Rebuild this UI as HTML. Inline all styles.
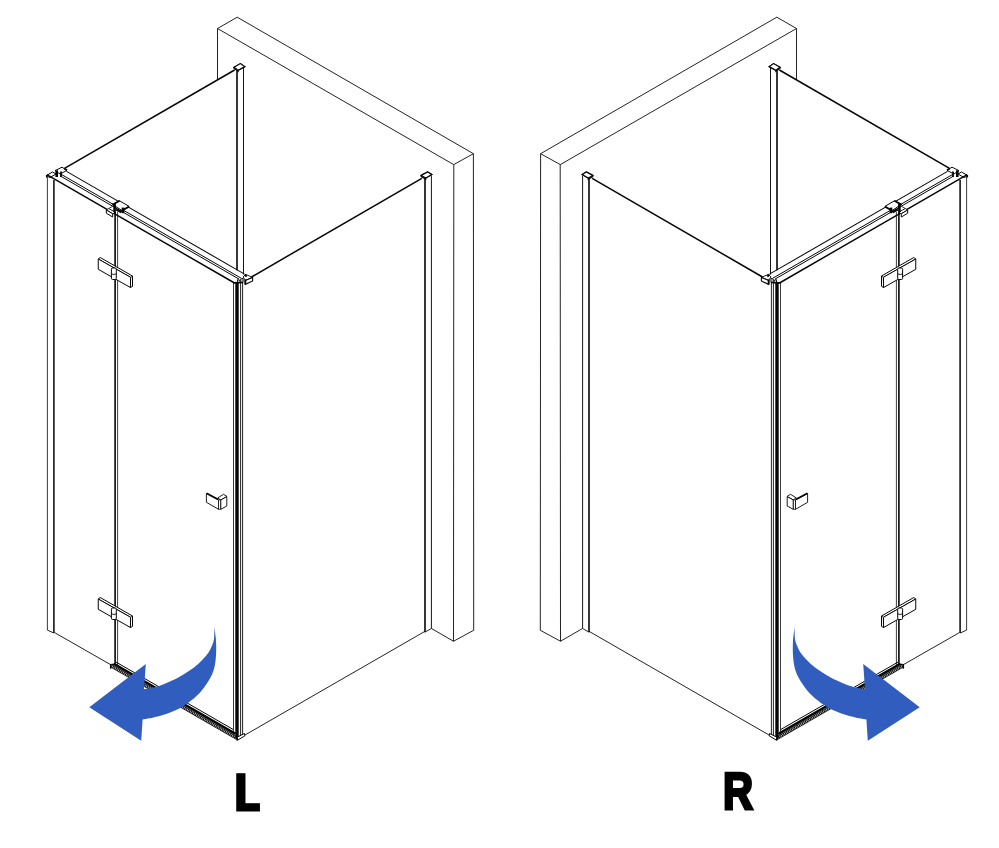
<!DOCTYPE html>
<html><head><meta charset="utf-8"><title>L / R</title>
<style>
html,body{margin:0;padding:0;background:#fff;}
body{width:999px;height:848px;overflow:hidden;position:relative;font-family:"Liberation Sans",sans-serif;}
svg{position:absolute;left:0;top:0;display:block;will-change:transform}
</style></head><body>
<svg width="999" height="848" viewBox="0 0 999 848">
<rect width="999" height="848" fill="#fff"/>
<g>
<path d="M217.50 28.50 L237.20 17.20 L473.40 153.70 L453.70 164.60 Z" stroke="#0a0a0a" stroke-width="0.9" fill="none" stroke-linejoin="miter"/>
<line x1="217.50" y1="28.50" x2="217.50" y2="79.80" stroke="#0a0a0a" stroke-width="0.9"/>
<line x1="473.40" y1="153.70" x2="473.70" y2="630.25" stroke="#0a0a0a" stroke-width="0.9"/>
<line x1="453.80" y1="164.50" x2="453.50" y2="641.25" stroke="#0a0a0a" stroke-width="0.9"/>
<path d="M431.50 628.50 L453.50 641.25 L473.75 630.25" stroke="#0a0a0a" stroke-width="0.9" fill="none" stroke-linejoin="miter"/>
<line x1="237.00" y1="70.50" x2="237.00" y2="270.30" stroke="#050505" stroke-width="1.6"/>
<line x1="243.50" y1="67.50" x2="243.50" y2="274.50" stroke="#0a0a0a" stroke-width="0.95"/>
<path d="M234.00 68.40 L234.00 67.20 L240.40 63.60 L244.80 66.60 L238.20 70.20 L238.20 71.40 Z" stroke="#050505" stroke-width="1.1" fill="#fff" stroke-linejoin="miter"/>
<path d="M234.00 67.20 L240.40 63.60 L244.80 66.60 L238.20 70.20 Z" stroke="#050505" stroke-width="1.2" fill="#fff" stroke-linejoin="miter"/>
<line x1="64.50" y1="168.40" x2="234.60" y2="70.00" stroke="#050505" stroke-width="1.5"/>
<line x1="425.00" y1="178.50" x2="425.00" y2="632.30" stroke="#050505" stroke-width="1.6"/>
<line x1="431.40" y1="175.50" x2="431.40" y2="628.50" stroke="#0a0a0a" stroke-width="0.95"/>
<line x1="425.10" y1="632.00" x2="431.50" y2="628.50" stroke="#0a0a0a" stroke-width="0.9"/>
<path d="M421.20 176.60 L421.20 175.40 L427.60 172.00 L431.80 174.40 L425.80 178.00 L425.80 179.20 Z" stroke="#050505" stroke-width="1.1" fill="#fff" stroke-linejoin="miter"/>
<path d="M421.20 175.40 L427.60 172.00 L431.80 174.40 L425.80 178.00 Z" stroke="#050505" stroke-width="1.2" fill="#fff" stroke-linejoin="miter"/>
<line x1="251.50" y1="277.00" x2="421.80" y2="178.30" stroke="#050505" stroke-width="1.5"/>
<line x1="245.00" y1="735.00" x2="425.00" y2="631.30" stroke="#0a0a0a" stroke-width="0.9"/>
<line x1="47.40" y1="177.00" x2="47.40" y2="630.00" stroke="#0a0a0a" stroke-width="0.8"/>
<line x1="53.90" y1="180.00" x2="53.90" y2="633.00" stroke="#050505" stroke-width="1.5"/>
<line x1="47.25" y1="630.00" x2="53.75" y2="633.00" stroke="#0a0a0a" stroke-width="0.9"/>
<line x1="54.40" y1="632.50" x2="111.25" y2="665.00" stroke="#0a0a0a" stroke-width="0.9"/>
<line x1="66.50" y1="171.42" x2="244.50" y2="274.12" stroke="#050505" stroke-width="1.05"/>
<line x1="61.50" y1="174.53" x2="241.00" y2="278.10" stroke="#050505" stroke-width="1.0"/>
<line x1="60.00" y1="175.81" x2="239.00" y2="279.10" stroke="#050505" stroke-width="1.0"/>
<path d="M46.30 175.60 L52.50 172.00 L56.00 174.00 L49.80 177.60 Z" stroke="#050505" stroke-width="1.0" fill="#fff" stroke-linejoin="miter"/>
<path d="M55.00 170.60 L62.00 167.20 L67.00 170.40 L60.00 174.00 Z" stroke="#0a0a0a" stroke-width="1.0" fill="#fff" stroke-linejoin="miter"/>
<line x1="56.70" y1="170.30" x2="56.70" y2="177.00" stroke="#050505" stroke-width="2.6"/>
<line x1="61.00" y1="171.60" x2="61.00" y2="177.00" stroke="#050505" stroke-width="1.8"/>
<line x1="46.60" y1="175.00" x2="46.60" y2="177.50" stroke="#050505" stroke-width="1.4"/>
<line x1="64.30" y1="168.60" x2="67.00" y2="170.20" stroke="#050505" stroke-width="1.8"/>
<line x1="46.80" y1="174.70" x2="234.50" y2="283.00" stroke="#050505" stroke-width="1.45"/>
<path d="M112.60 204.50 L119.50 200.80 L129.00 206.30 L122.00 210.60 Z" stroke="#050505" stroke-width="1.0" fill="#fff" stroke-linejoin="miter"/>
<path d="M106.30 210.00 L108.70 208.50 L115.20 212.20 L112.80 213.80 Z" stroke="#050505" stroke-width="0.9" fill="#fff" stroke-linejoin="miter"/>
<path d="M106.30 210.00 L106.30 213.20 L112.60 217.00 L112.80 213.80 Z" stroke="#050505" stroke-width="1.0" fill="#fff" stroke-linejoin="miter"/>
<line x1="108.70" y1="208.50" x2="112.60" y2="206.30" stroke="#050505" stroke-width="0.8"/>
<line x1="112.40" y1="204.80" x2="119.60" y2="200.80" stroke="#050505" stroke-width="1.8"/>
<line x1="121.80" y1="210.80" x2="129.20" y2="206.40" stroke="#050505" stroke-width="1.8"/>
<line x1="114.60" y1="204.00" x2="114.60" y2="212.00" stroke="#050505" stroke-width="2.6"/>
<line x1="123.00" y1="207.60" x2="123.00" y2="213.20" stroke="#050505" stroke-width="2.6"/>
<line x1="116.20" y1="209.50" x2="121.50" y2="212.20" stroke="#050505" stroke-width="2.2"/>
<line x1="115.10" y1="212.00" x2="115.10" y2="664.00" stroke="#050505" stroke-width="1.6"/>
<line x1="117.60" y1="212.00" x2="117.60" y2="665.00" stroke="#0a0a0a" stroke-width="0.8"/>
<path d="M98.25 259.00 L100.25 257.50 L132.50 276.00 L132.50 286.40 L130.40 287.50 L130.60 277.30 Z" stroke="#050505" stroke-width="1.0" fill="#fff" stroke-linejoin="miter"/>
<path d="M98.25 259.00 L98.25 269.30 L130.40 287.50 L130.60 277.30 Z" stroke="#050505" stroke-width="1.0" fill="#fff" stroke-linejoin="miter"/>
<line x1="130.60" y1="277.30" x2="132.50" y2="276.00" stroke="#050505" stroke-width="0.8"/>
<rect x="111.4" y="268.00" width="4.9" height="11.5" rx="1.2" fill="#fff" stroke="#050505" stroke-width="1.0"/>
<path d="M111.4 273.80 Q113.8 275.20 116.3 273.80" fill="none" stroke="#050505" stroke-width="0.9"/>
<path d="M98.25 599.00 L100.25 597.50 L132.50 616.00 L132.50 626.40 L130.40 627.50 L130.60 617.30 Z" stroke="#050505" stroke-width="1.0" fill="#fff" stroke-linejoin="miter"/>
<path d="M98.25 599.00 L98.25 609.30 L130.40 627.50 L130.60 617.30 Z" stroke="#050505" stroke-width="1.0" fill="#fff" stroke-linejoin="miter"/>
<line x1="130.60" y1="617.30" x2="132.50" y2="616.00" stroke="#050505" stroke-width="0.8"/>
<rect x="111.4" y="608.00" width="4.9" height="11.5" rx="1.2" fill="#fff" stroke="#050505" stroke-width="1.0"/>
<path d="M111.4 613.80 Q113.8 615.20 116.3 613.80" fill="none" stroke="#050505" stroke-width="0.9"/>
<path d="M206.40 493.50 L206.40 502.30 L218.50 509.30 L218.50 499.90 Z" stroke="#050505" stroke-width="0.9" fill="#fff" stroke-linejoin="miter"/>
<line x1="206.60" y1="493.20" x2="218.20" y2="499.40" stroke="#050505" stroke-width="1.7"/>
<path d="M217.80 497.90 L223.50 494.30 L227.00 496.50 L220.80 499.90 Z" stroke="#050505" stroke-width="0.9" fill="#fff" stroke-linejoin="miter"/>
<path d="M218.50 499.90 L220.80 499.90 L220.80 509.30 L218.50 509.30 Z" stroke="#050505" stroke-width="0.8" fill="#fff" stroke-linejoin="miter"/>
<path d="M220.80 499.90 L226.80 496.70 L226.80 506.00 L220.80 509.30 Z" stroke="#050505" stroke-width="0.9" fill="#fff" stroke-linejoin="miter"/>
<line x1="116.00" y1="662.08" x2="233.20" y2="729.47" stroke="#050505" stroke-width="1.0"/>
<line x1="113.80" y1="663.86" x2="235.50" y2="733.84" stroke="#050505" stroke-width="2.4"/>
<line x1="110.30" y1="664.80" x2="114.60" y2="664.20" stroke="#050505" stroke-width="1.5"/>
<line x1="110.60" y1="665.52" x2="237.00" y2="738.20" stroke="#161616" stroke-width="3.3"/>
<line x1="110.6" y1="665.52" x2="237" y2="738.20" stroke="#fff" stroke-width="2.0" stroke-dasharray="0.55 1.25"/>
<line x1="110.60" y1="664.20" x2="110.60" y2="668.80" stroke="#050505" stroke-width="1.3"/>
<line x1="233.50" y1="282.70" x2="233.50" y2="733.00" stroke="#0a0a0a" stroke-width="0.8"/>
<line x1="237.00" y1="282.70" x2="237.00" y2="738.00" stroke="#050505" stroke-width="3.4"/>
<line x1="240.60" y1="283.00" x2="240.60" y2="737.00" stroke="#0a0a0a" stroke-width="0.9"/>
<line x1="242.60" y1="283.00" x2="242.60" y2="736.00" stroke="#0a0a0a" stroke-width="0.9"/>
<path d="M243.20 277.00 L245.50 274.30 L252.60 277.40 L245.30 280.40 Z" stroke="#050505" stroke-width="0.9" fill="#fff" stroke-linejoin="miter"/>
<path d="M245.30 280.40 L252.60 277.40 L252.60 281.00 L245.40 284.30 Z" stroke="#050505" stroke-width="1.1" fill="#fff" stroke-linejoin="miter"/>
<line x1="245.30" y1="279.60" x2="245.40" y2="284.40" stroke="#050505" stroke-width="1.9"/>
<line x1="244.90" y1="274.60" x2="246.60" y2="276.60" stroke="#050505" stroke-width="2.0"/>
<path d="M237.60 279.60 L240.00 280.40 L240.00 282.60 L237.60 282.60 Z" stroke="#050505" stroke-width="1.0" fill="#fff" stroke-linejoin="miter"/>
<path d="M240.80 279.00 L243.00 278.20 L243.00 282.20 L240.80 282.60 Z" stroke="#050505" stroke-width="1.0" fill="#fff" stroke-linejoin="miter"/>
<line x1="233.00" y1="282.90" x2="243.20" y2="282.50" stroke="#050505" stroke-width="1.6"/>
<path d="M237.00 737.20 L244.50 733.50 L244.80 735.90 L237.50 740.20 Z" stroke="#050505" stroke-width="1.0" fill="#fff" stroke-linejoin="miter"/>
<line x1="236.60" y1="737.00" x2="237.20" y2="740.40" stroke="#050505" stroke-width="1.6"/>
</g>
<g transform="translate(1014,0) scale(-1,1)">
<path d="M217.50 28.50 L237.20 17.20 L473.40 153.70 L453.70 164.60 Z" stroke="#0a0a0a" stroke-width="0.9" fill="none" stroke-linejoin="miter"/>
<line x1="217.50" y1="28.50" x2="217.50" y2="79.80" stroke="#0a0a0a" stroke-width="0.9"/>
<line x1="473.40" y1="153.70" x2="473.70" y2="630.25" stroke="#0a0a0a" stroke-width="0.9"/>
<line x1="453.80" y1="164.50" x2="453.50" y2="641.25" stroke="#0a0a0a" stroke-width="0.9"/>
<path d="M431.50 628.50 L453.50 641.25 L473.75 630.25" stroke="#0a0a0a" stroke-width="0.9" fill="none" stroke-linejoin="miter"/>
<line x1="237.00" y1="70.50" x2="237.00" y2="270.30" stroke="#050505" stroke-width="1.6"/>
<line x1="243.50" y1="67.50" x2="243.50" y2="274.50" stroke="#0a0a0a" stroke-width="0.95"/>
<path d="M234.00 68.40 L234.00 67.20 L240.40 63.60 L244.80 66.60 L238.20 70.20 L238.20 71.40 Z" stroke="#050505" stroke-width="1.1" fill="#fff" stroke-linejoin="miter"/>
<path d="M234.00 67.20 L240.40 63.60 L244.80 66.60 L238.20 70.20 Z" stroke="#050505" stroke-width="1.2" fill="#fff" stroke-linejoin="miter"/>
<line x1="64.50" y1="168.40" x2="234.60" y2="70.00" stroke="#050505" stroke-width="1.5"/>
<line x1="425.00" y1="178.50" x2="425.00" y2="632.30" stroke="#050505" stroke-width="1.6"/>
<line x1="431.40" y1="175.50" x2="431.40" y2="628.50" stroke="#0a0a0a" stroke-width="0.95"/>
<line x1="425.10" y1="632.00" x2="431.50" y2="628.50" stroke="#0a0a0a" stroke-width="0.9"/>
<path d="M421.20 176.60 L421.20 175.40 L427.60 172.00 L431.80 174.40 L425.80 178.00 L425.80 179.20 Z" stroke="#050505" stroke-width="1.1" fill="#fff" stroke-linejoin="miter"/>
<path d="M421.20 175.40 L427.60 172.00 L431.80 174.40 L425.80 178.00 Z" stroke="#050505" stroke-width="1.2" fill="#fff" stroke-linejoin="miter"/>
<line x1="251.50" y1="277.00" x2="421.80" y2="178.30" stroke="#050505" stroke-width="1.5"/>
<line x1="245.00" y1="735.00" x2="425.00" y2="631.30" stroke="#0a0a0a" stroke-width="0.9"/>
<line x1="47.40" y1="177.00" x2="47.40" y2="630.00" stroke="#0a0a0a" stroke-width="0.8"/>
<line x1="53.90" y1="180.00" x2="53.90" y2="633.00" stroke="#050505" stroke-width="1.5"/>
<line x1="47.25" y1="630.00" x2="53.75" y2="633.00" stroke="#0a0a0a" stroke-width="0.9"/>
<line x1="54.40" y1="632.50" x2="111.25" y2="665.00" stroke="#0a0a0a" stroke-width="0.9"/>
<line x1="66.50" y1="171.42" x2="244.50" y2="274.12" stroke="#050505" stroke-width="1.05"/>
<line x1="61.50" y1="174.53" x2="241.00" y2="278.10" stroke="#050505" stroke-width="1.0"/>
<line x1="60.00" y1="175.81" x2="239.00" y2="279.10" stroke="#050505" stroke-width="1.0"/>
<path d="M46.30 175.60 L52.50 172.00 L56.00 174.00 L49.80 177.60 Z" stroke="#050505" stroke-width="1.0" fill="#fff" stroke-linejoin="miter"/>
<path d="M55.00 170.60 L62.00 167.20 L67.00 170.40 L60.00 174.00 Z" stroke="#0a0a0a" stroke-width="1.0" fill="#fff" stroke-linejoin="miter"/>
<line x1="56.70" y1="170.30" x2="56.70" y2="177.00" stroke="#050505" stroke-width="2.6"/>
<line x1="61.00" y1="171.60" x2="61.00" y2="177.00" stroke="#050505" stroke-width="1.8"/>
<line x1="46.60" y1="175.00" x2="46.60" y2="177.50" stroke="#050505" stroke-width="1.4"/>
<line x1="64.30" y1="168.60" x2="67.00" y2="170.20" stroke="#050505" stroke-width="1.8"/>
<line x1="46.80" y1="174.70" x2="234.50" y2="283.00" stroke="#050505" stroke-width="1.45"/>
<path d="M112.60 204.50 L119.50 200.80 L129.00 206.30 L122.00 210.60 Z" stroke="#050505" stroke-width="1.0" fill="#fff" stroke-linejoin="miter"/>
<path d="M106.30 210.00 L108.70 208.50 L115.20 212.20 L112.80 213.80 Z" stroke="#050505" stroke-width="0.9" fill="#fff" stroke-linejoin="miter"/>
<path d="M106.30 210.00 L106.30 213.20 L112.60 217.00 L112.80 213.80 Z" stroke="#050505" stroke-width="1.0" fill="#fff" stroke-linejoin="miter"/>
<line x1="108.70" y1="208.50" x2="112.60" y2="206.30" stroke="#050505" stroke-width="0.8"/>
<line x1="112.40" y1="204.80" x2="119.60" y2="200.80" stroke="#050505" stroke-width="1.8"/>
<line x1="121.80" y1="210.80" x2="129.20" y2="206.40" stroke="#050505" stroke-width="1.8"/>
<line x1="114.60" y1="204.00" x2="114.60" y2="212.00" stroke="#050505" stroke-width="2.6"/>
<line x1="123.00" y1="207.60" x2="123.00" y2="213.20" stroke="#050505" stroke-width="2.6"/>
<line x1="116.20" y1="209.50" x2="121.50" y2="212.20" stroke="#050505" stroke-width="2.2"/>
<line x1="115.10" y1="212.00" x2="115.10" y2="664.00" stroke="#050505" stroke-width="1.6"/>
<line x1="117.60" y1="212.00" x2="117.60" y2="665.00" stroke="#0a0a0a" stroke-width="0.8"/>
<path d="M98.25 259.00 L100.25 257.50 L132.50 276.00 L132.50 286.40 L130.40 287.50 L130.60 277.30 Z" stroke="#050505" stroke-width="1.0" fill="#fff" stroke-linejoin="miter"/>
<path d="M98.25 259.00 L98.25 269.30 L130.40 287.50 L130.60 277.30 Z" stroke="#050505" stroke-width="1.0" fill="#fff" stroke-linejoin="miter"/>
<line x1="130.60" y1="277.30" x2="132.50" y2="276.00" stroke="#050505" stroke-width="0.8"/>
<rect x="111.4" y="268.00" width="4.9" height="11.5" rx="1.2" fill="#fff" stroke="#050505" stroke-width="1.0"/>
<path d="M111.4 273.80 Q113.8 275.20 116.3 273.80" fill="none" stroke="#050505" stroke-width="0.9"/>
<path d="M98.25 599.00 L100.25 597.50 L132.50 616.00 L132.50 626.40 L130.40 627.50 L130.60 617.30 Z" stroke="#050505" stroke-width="1.0" fill="#fff" stroke-linejoin="miter"/>
<path d="M98.25 599.00 L98.25 609.30 L130.40 627.50 L130.60 617.30 Z" stroke="#050505" stroke-width="1.0" fill="#fff" stroke-linejoin="miter"/>
<line x1="130.60" y1="617.30" x2="132.50" y2="616.00" stroke="#050505" stroke-width="0.8"/>
<rect x="111.4" y="608.00" width="4.9" height="11.5" rx="1.2" fill="#fff" stroke="#050505" stroke-width="1.0"/>
<path d="M111.4 613.80 Q113.8 615.20 116.3 613.80" fill="none" stroke="#050505" stroke-width="0.9"/>
<path d="M206.40 493.50 L206.40 502.30 L218.50 509.30 L218.50 499.90 Z" stroke="#050505" stroke-width="0.9" fill="#fff" stroke-linejoin="miter"/>
<line x1="206.60" y1="493.20" x2="218.20" y2="499.40" stroke="#050505" stroke-width="1.7"/>
<path d="M217.80 497.90 L223.50 494.30 L227.00 496.50 L220.80 499.90 Z" stroke="#050505" stroke-width="0.9" fill="#fff" stroke-linejoin="miter"/>
<path d="M218.50 499.90 L220.80 499.90 L220.80 509.30 L218.50 509.30 Z" stroke="#050505" stroke-width="0.8" fill="#fff" stroke-linejoin="miter"/>
<path d="M220.80 499.90 L226.80 496.70 L226.80 506.00 L220.80 509.30 Z" stroke="#050505" stroke-width="0.9" fill="#fff" stroke-linejoin="miter"/>
<line x1="116.00" y1="662.08" x2="233.20" y2="729.47" stroke="#050505" stroke-width="1.0"/>
<line x1="113.80" y1="663.86" x2="235.50" y2="733.84" stroke="#050505" stroke-width="2.4"/>
<line x1="110.30" y1="664.80" x2="114.60" y2="664.20" stroke="#050505" stroke-width="1.5"/>
<line x1="110.60" y1="665.52" x2="237.00" y2="738.20" stroke="#161616" stroke-width="3.3"/>
<line x1="110.6" y1="665.52" x2="237" y2="738.20" stroke="#fff" stroke-width="2.0" stroke-dasharray="0.55 1.25"/>
<line x1="110.60" y1="664.20" x2="110.60" y2="668.80" stroke="#050505" stroke-width="1.3"/>
<line x1="233.50" y1="282.70" x2="233.50" y2="733.00" stroke="#0a0a0a" stroke-width="0.8"/>
<line x1="237.00" y1="282.70" x2="237.00" y2="738.00" stroke="#050505" stroke-width="3.4"/>
<line x1="240.60" y1="283.00" x2="240.60" y2="737.00" stroke="#0a0a0a" stroke-width="0.9"/>
<line x1="242.60" y1="283.00" x2="242.60" y2="736.00" stroke="#0a0a0a" stroke-width="0.9"/>
<path d="M243.20 277.00 L245.50 274.30 L252.60 277.40 L245.30 280.40 Z" stroke="#050505" stroke-width="0.9" fill="#fff" stroke-linejoin="miter"/>
<path d="M245.30 280.40 L252.60 277.40 L252.60 281.00 L245.40 284.30 Z" stroke="#050505" stroke-width="1.1" fill="#fff" stroke-linejoin="miter"/>
<line x1="245.30" y1="279.60" x2="245.40" y2="284.40" stroke="#050505" stroke-width="1.9"/>
<line x1="244.90" y1="274.60" x2="246.60" y2="276.60" stroke="#050505" stroke-width="2.0"/>
<path d="M237.60 279.60 L240.00 280.40 L240.00 282.60 L237.60 282.60 Z" stroke="#050505" stroke-width="1.0" fill="#fff" stroke-linejoin="miter"/>
<path d="M240.80 279.00 L243.00 278.20 L243.00 282.20 L240.80 282.60 Z" stroke="#050505" stroke-width="1.0" fill="#fff" stroke-linejoin="miter"/>
<line x1="233.00" y1="282.90" x2="243.20" y2="282.50" stroke="#050505" stroke-width="1.6"/>
<path d="M237.00 737.20 L244.50 733.50 L244.80 735.90 L237.50 740.20 Z" stroke="#050505" stroke-width="1.0" fill="#fff" stroke-linejoin="miter"/>
<line x1="236.60" y1="737.00" x2="237.20" y2="740.40" stroke="#050505" stroke-width="1.6"/>
</g>
<path d="M214.6 625.5 C214.6 626.2 214.6 627.8 214.8 630.0 C215.0 632.2 215.7 636.0 215.9 639.0 C216.1 642.0 216.2 645.0 216.2 648.0 C216.2 651.0 216.2 654.0 215.9 657.0 C215.7 660.0 215.3 663.2 214.7 666.0 C214.1 668.8 213.4 671.2 212.2 674.0 C211.0 676.8 209.6 679.3 207.5 682.5 C205.4 685.7 202.7 689.8 199.4 693.3 C196.1 696.8 191.8 700.3 187.7 703.2 C183.6 706.1 179.7 708.4 175.0 710.5 C170.3 712.6 165.1 714.4 159.7 715.9 C154.3 717.4 145.4 718.9 142.6 719.5 L141.2 740.8 L89.3 707.2 L145.8 664.0 L144.0 689.3 C146.6 688.7 154.5 687.4 159.7 685.7 C164.9 684.0 170.8 681.3 175.0 679.3 C179.2 677.3 181.8 675.5 185.0 673.6 C188.2 671.7 191.2 669.8 194.0 667.6 C196.8 665.4 199.6 662.8 202.0 660.3 C204.4 657.8 206.7 655.2 208.4 652.8 C210.1 650.3 211.1 647.9 212.0 645.6 C212.9 643.3 213.6 641.6 214.0 639.0 C214.4 636.4 214.3 632.2 214.4 630.0 C214.5 627.8 214.6 626.2 214.6 625.5 Z" fill="#315ebe"/>
<g transform="translate(1009,0) scale(-1,1)"><path d="M214.6 625.5 C214.6 626.2 214.6 627.8 214.8 630.0 C215.0 632.2 215.7 636.0 215.9 639.0 C216.1 642.0 216.2 645.0 216.2 648.0 C216.2 651.0 216.2 654.0 215.9 657.0 C215.7 660.0 215.3 663.2 214.7 666.0 C214.1 668.8 213.4 671.2 212.2 674.0 C211.0 676.8 209.6 679.3 207.5 682.5 C205.4 685.7 202.7 689.8 199.4 693.3 C196.1 696.8 191.8 700.3 187.7 703.2 C183.6 706.1 179.7 708.4 175.0 710.5 C170.3 712.6 165.1 714.4 159.7 715.9 C154.3 717.4 145.4 718.9 142.6 719.5 L141.2 740.8 L89.3 707.2 L145.8 664.0 L144.0 689.3 C146.6 688.7 154.5 687.4 159.7 685.7 C164.9 684.0 170.8 681.3 175.0 679.3 C179.2 677.3 181.8 675.5 185.0 673.6 C188.2 671.7 191.2 669.8 194.0 667.6 C196.8 665.4 199.6 662.8 202.0 660.3 C204.4 657.8 206.7 655.2 208.4 652.8 C210.1 650.3 211.1 647.9 212.0 645.6 C212.9 643.3 213.6 641.6 214.0 639.0 C214.4 636.4 214.3 632.2 214.4 630.0 C214.5 627.8 214.6 626.2 214.6 625.5 Z" fill="#315ebe"/></g>
<g transform="translate(232.8,810.5) scale(0.95,1)" opacity="0.999"><text x="0" y="0" font-family="DejaVu Sans Condensed, Liberation Sans, sans-serif" font-weight="bold" font-size="51.2" fill="#000" stroke="#000" stroke-width="1" text-rendering="geometricPrecision">L</text></g>
<g transform="translate(723.0,808.9) scale(0.80,1)" opacity="0.999"><text x="0" y="0" font-family="Liberation Sans, sans-serif" font-weight="bold" font-size="52" fill="#000" stroke="#000" stroke-width="3" text-rendering="geometricPrecision">R</text></g>
</svg>
</body></html>
